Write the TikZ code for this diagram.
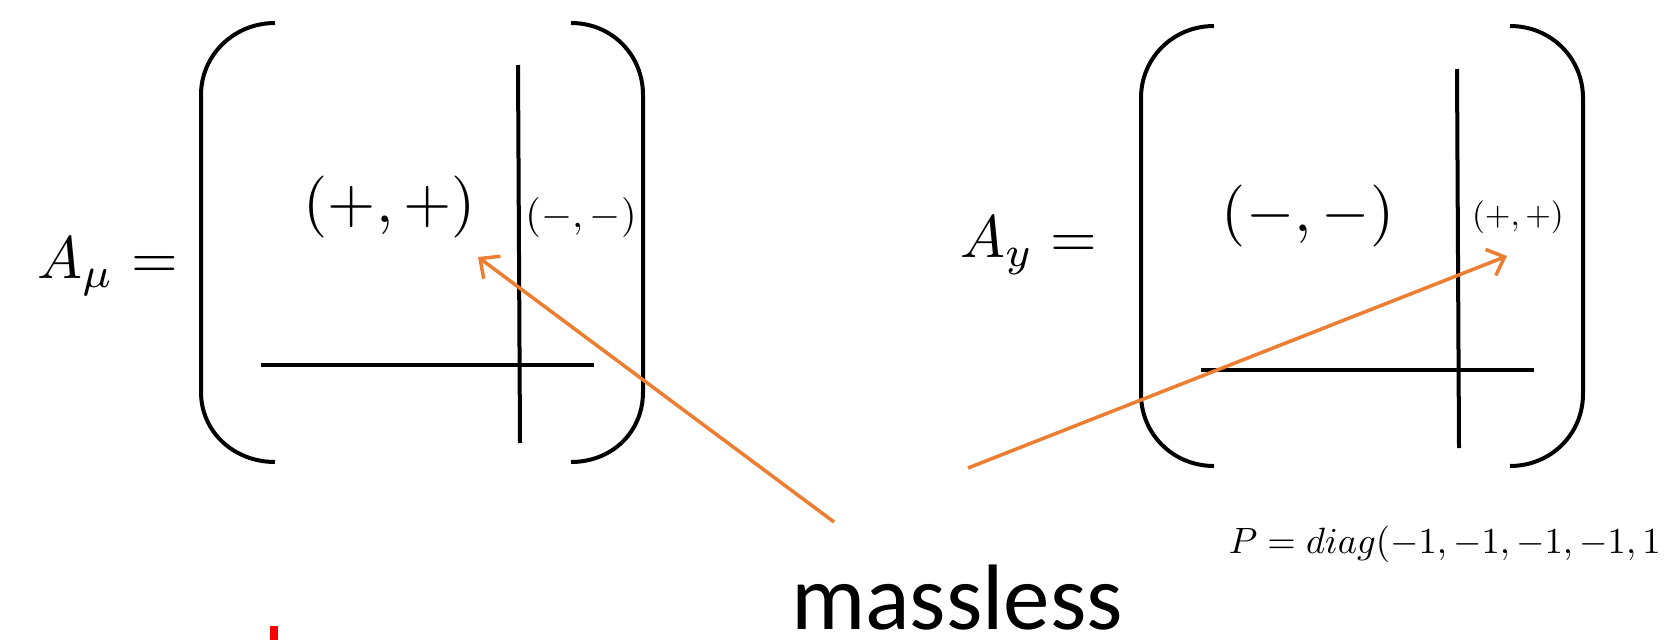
\documentclass[tikz,border=0pt]{standalone}
\usepackage{fontspec}
\newfontfamily\carlito{Carlito}
\usetikzlibrary{arrows.meta}
\definecolor{office}{HTML}{ED7D31}
\tikzset{
  bracket/.style={line width=4pt, line cap=butt},
  rule/.style={line width=4pt},
  conn/.style={office, line width=3.5pt, -{Straight Barb[length=15pt,width=28pt,line width=3.5pt]}},
  txt/.style={inner sep=0pt, anchor=base},
}
\begin{document}
\begin{tikzpicture}[x=1pt,y=-1pt]
\useasboundingbox (0,0) rectangle (1672,640);
% left matrix
\draw[bracket] (275,23) .. controls (234,23) and (201,55) .. (201,95) -- (201,392) .. controls (201,432) and (234,462) .. (275,462);
\draw[bracket] (571,23) .. controls (612,23) and (643,55) .. (643,95) -- (643,392) .. controls (643,432) and (612,462) .. (571,462);
\coordinate (lvt) at (518,65);
\coordinate (lvb) at (520,443);
\coordinate (lhl) at (261,365);
\coordinate (lhr) at (594,365);
\draw[rule] (lvt) -- (lvb);
\draw[rule] (lhl) -- (lhr);
\node[txt, anchor=base west, scale=6] (amu) at (36,278) {$A_\mu =$};
\node[txt, scale=6.2] (lpp) at (390,222) {$(+,+)$};
\node[txt, scale=4] (lmm) at (581,227) {$(-,-)$};
% right matrix
\draw[bracket] (1214,26) .. controls (1173,26) and (1141,58) .. (1141,98) -- (1141,394) .. controls (1141,434) and (1173,466) .. (1214,466);
\draw[bracket] (1510,26) .. controls (1551,26) and (1583,58) .. (1583,98) -- (1583,394) .. controls (1583,434) and (1551,466) .. (1510,466);
\coordinate (rvt) at (1457,69);
\coordinate (rvb) at (1459,448);
\coordinate (rhl) at (1201,370);
\coordinate (rhr) at (1534,370);
\draw[rule] (rvt) -- (rvb);
\draw[rule] (rhl) -- (rhr);
\node[txt, anchor=base west, scale=6] (ay) at (959,257) {$A_y =$};
\node[txt, scale=6.2] (rmm) at (1308,231) {$(-,-)$};
\node[txt, scale=3.3] (rpp) at (1518,225) {$(+,+)$};
% P text
\node[txt, anchor=base west, scale=3.66] (ptext) at (1228,553) {$P=diag(-1,-1,-1,-1,1$};
% massless
\node[txt] (massless) at (957,629) {\fontsize{93}{110}\carlito massless};
% arrows
\coordinate (ltail) at (834,522);
\coordinate (ltip) at (478,257);
\coordinate (rtail) at (968,468);
\coordinate (rtip) at (1507,256);
\draw[conn] (ltail) -- (ltip);
\draw[conn] (rtail) -- (rtip);
% red mark
\fill[red] (270,626) rectangle (278,640);
\end{tikzpicture}
\end{document}
